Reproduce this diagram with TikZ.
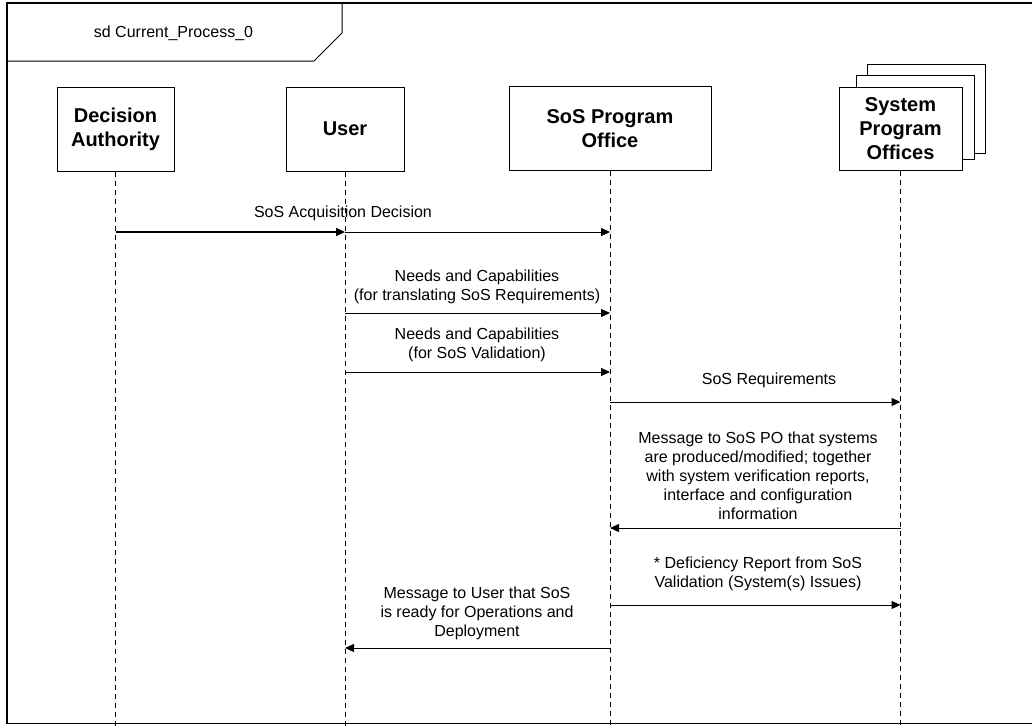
\documentclass[tikz,border=0pt]{standalone}
\usepackage{fontspec}
\setmainfont{Liberation Sans}
\usetikzlibrary{arrows.meta}
\begin{document}
\begin{tikzpicture}[x=1pt,y=-1pt,
  every node/.style={font=\fontsize{16}{19}\selectfont, inner sep=0pt},
  lifebox/.style={draw, line width=1pt, fill=white, minimum width=118pt, minimum height=84pt, align=center, font=\fontsize{20}{24}\selectfont\bfseries},
  backbox/.style={draw, line width=1pt, fill=white},
  lifeline/.style={line width=1pt, dash pattern=on 5pt off 4pt},
  msg/.style={line width=1pt, -{Triangle[length=9pt,width=8pt]}},
  framestyle/.style={line width=1.3pt},
  lbl/.style={align=center}]
\useasboundingbox (0,0) rectangle (1032,725);
% frame
\draw[framestyle] (1045,3) -- (7,3) -- (7,723.5) -- (1045,723.5);
\draw[line width=1pt] (7,61) -- (314,61) -- (342,33) -- (342,3);
\node (title) at (173.5,33) {sd Current\_Process\_0};
% lifeline heads
\node[lifebox, minimum width=117pt] (da) at (115.5,129) {Decision\\Authority};
\node[lifebox] (user) at (345,129) {User};
\node[lifebox, minimum width=202pt] (sos) at (610,128.5) {SoS Program\\Office};
\draw[backbox] (867,64) rectangle (985,153);
\draw[backbox] (856,75) rectangle (974,159);
\node[lifebox, minimum width=123pt, minimum height=83pt] (spo) at (900.5,128.5) {System\\Program\\Offices};
% lifelines
\coordinate (bottom) at (0,730);
\draw[lifeline] (da.south) -- (da |- bottom);
\draw[lifeline] (user.south) -- (user |- bottom);
\draw[lifeline] (sos.south) -- (sos |- bottom);
\draw[lifeline] (spo.south) -- (spo |- bottom);
% message rows
\coordinate (r1) at (0,232);
\coordinate (r2) at (0,313);
\coordinate (r3) at (0,372);
\coordinate (r4) at (0,402);
\coordinate (r5) at (0,528);
\coordinate (r6) at (0,605);
\coordinate (r7) at (0,648);
\draw[msg, line width=1.2pt] (da |- r1) -- (user |- r1);
\draw[msg] (user |- r1) -- (sos |- r1);
\draw[msg] (user |- r2) -- (sos |- r2);
\draw[msg] (user |- r3) -- (sos |- r3);
\draw[msg] (sos |- r4) -- (spo |- r4);
\draw[msg] (spo |- r5) -- (sos |- r5);
\draw[msg] (sos |- r6) -- (spo |- r6);
\draw[msg] (sos |- r7) -- (user |- r7);
% labels
\node[lbl] (l1) at (343,213) {SoS Acquisition Decision};
\node[lbl] (l2) at (477,287) {Needs and Capabilities\\(for translating SoS Requirements)};
\node[lbl] (l3) at (477,345) {Needs and Capabilities\\(for SoS Validation)};
\node[lbl] (l4) at (769,380) {SoS Requirements};
\node[lbl] (l5) at (758,476) {Message to SoS PO that systems\\are produced/modified; together\\with system verification reports,\\interface and configuration\\information};
\node[lbl] (l6) at (758,574) {* Deficiency Report from SoS\\Validation (System(s) Issues)};
\node[lbl] (l7) at (477,613) {Message to User that SoS\\is ready for Operations and\\Deployment};
\end{tikzpicture}
\end{document}
